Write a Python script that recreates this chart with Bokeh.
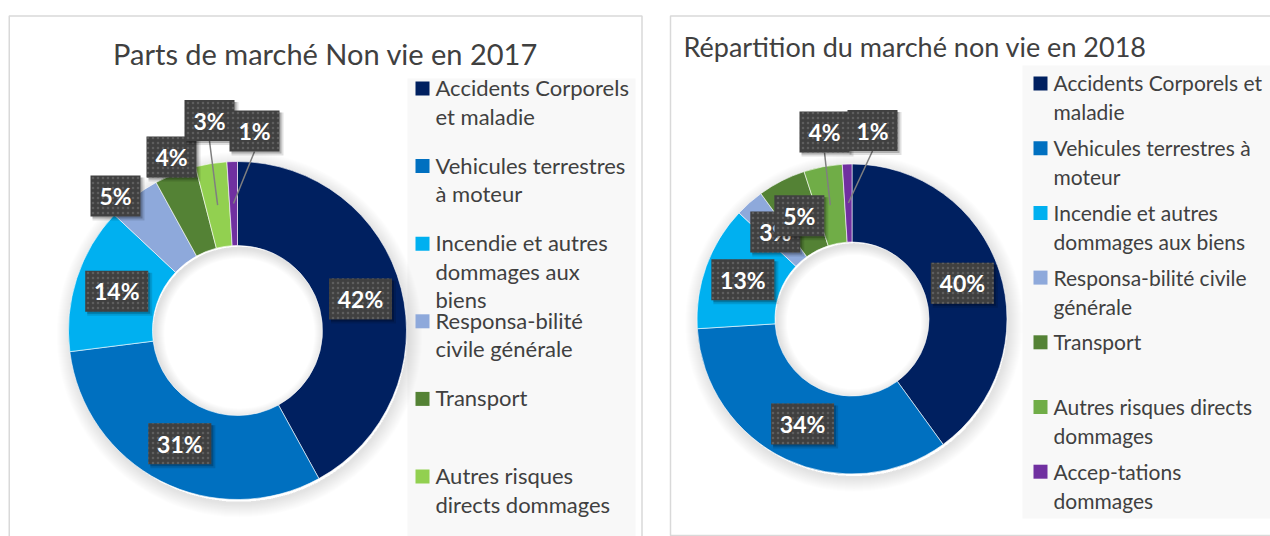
import math
from bokeh.plotting import figure
from bokeh.models import Range1d
from bokeh.core.properties import value
from bokeh.embed import file_html
from bokeh.resources import INLINE

# ---------------- data ----------------
categories = [
    "Accidents Corporels et maladie",
    "Vehicules terrestres à moteur",
    "Incendie et autres dommages aux biens",
    "Responsa-bilité civile générale",
    "Transport",
    "Autres risques directs dommages",
    "Accep-tations dommages",
]
values_2017 = [42, 31, 14, 5, 4, 3, 1]
values_2018 = [40, 34, 13, 3, 5, 4, 1]

legend_lines_2017 = [
    ["Accidents Corporels", "et maladie"],
    ["Vehicules terrestres", "à moteur"],
    ["Incendie et autres", "dommages aux", "biens"],
    ["Responsa-bilité", "civile générale"],
    ["Transport"],
    ["Autres risques", "directs dommages"],
    ["Accep-tations", "dommages"],
]
legend_lines_2018 = [
    ["Accidents Corporels et", "maladie"],
    ["Vehicules terrestres à", "moteur"],
    ["Incendie et autres", "dommages aux biens"],
    ["Responsa-bilité civile", "générale"],
    ["Transport"],
    ["Autres risques directs", "dommages"],
    ["Accep-tations", "dommages"],
]
title_2017 = "Parts de marché Non vie en 2017"
title_2018 = "Répartition du marché non vie en 2018"

colors_2017 = ["#002060", "#0070C0", "#00B0F0", "#8EA9DB", "#548235", "#92D050", "#7030A0"]
colors_2018 = ["#002060", "#0070C0", "#00B0F0", "#8EA9DB", "#548235", "#70AD47", "#7030A0"]

# ---------------- layout ----------------
W, H = 1270, 536
FONT = "Lato"
TEXT_COL = "#404040"


def Y(sy):
    # screen y (page pixels) -> data y
    return H - sy


def text_at_baseline(x, base, txt, size, align="left", **kw):
    # place text by its alphabetic baseline using a 'middle' anchor
    p.text(x=[x], y=[Y(base - 0.36 * size)], text=[txt], text_font=value(FONT),
           text_font_size="%gpx" % size, text_color=TEXT_COL, text_align=align,
           text_baseline="middle", **kw)


p = figure(width=W, height=H, x_range=Range1d(0, W), y_range=Range1d(0, H),
           output_backend="svg", toolbar_location=None,
           x_axis_location=None, y_axis_location=None, min_border=0)
p.grid.visible = False
p.outline_line_color = None
p.background_fill_color = "white"
p.border_fill_color = "white"

# panels
p.quad(left=[8.75], right=[641.5], top=[Y(15.5)], bottom=[Y(560)],
       fill_color="white", line_color="#d9d9d9", line_width=1.5)
p.quad(left=[670], right=[1290], top=[Y(15.5)], bottom=[Y(535)],
       fill_color="white", line_color="#d9d9d9", line_width=1.5)

# legend backgrounds
p.quad(left=[407], right=[635], top=[Y(78)], bottom=[Y(560)],
       fill_color="#f8f8f8", line_color=None)
p.quad(left=[1022], right=[1290], top=[Y(65)], bottom=[Y(518)],
       fill_color="#f8f8f8", line_color=None)


def donut(cx, cy, r_out, r_in, vals, cols, manual_pos, leaders):
    total = float(sum(vals))
    # soft outer shadow
    for k in range(1, 15):
        p.annulus(x=[cx + 2], y=[Y(cy + 4)], inner_radius=r_out - 2, outer_radius=r_out + k,
                  fill_color="black", fill_alpha=0.008, line_color=None)
    # inner shadow in the hole
    for k in range(1, 11):
        p.annulus(x=[cx + 2], y=[Y(cy + 3)], inner_radius=r_in - k, outer_radius=r_in + 2,
                  fill_color="black", fill_alpha=0.012, line_color=None)
    starts, ends, mids = [], [], []
    cum = 0.0
    for v in vals:
        a0 = 90 - (cum + v) / total * 360
        a1 = 90 - cum / total * 360
        starts.append(math.radians(a0))
        ends.append(math.radians(a1))
        mids.append(math.radians((a0 + a1) / 2))
        cum += v
    p.annular_wedge(x=[cx] * len(vals), y=[Y(cy)] * len(vals), inner_radius=r_in, outer_radius=r_out,
                    start_angle=starts, end_angle=ends, fill_color=cols,
                    line_color="white", line_width=0.6)
    r_mid = (r_out + r_in) / 2
    for i, v in enumerate(vals):
        label = "%d%%" % round(v / total * 100)
        mx = cx + r_mid * math.cos(mids[i])
        my = cy - r_mid * math.sin(mids[i])
        bx, by = manual_pos.get(i, (mx, my))
        bw = 24 + 13 * len(label)
        bh = 41
        if i in leaders:
            p.line(x=[bx, mx], y=[Y(by + bh / 2), Y(my)], line_color="#7f7f7f", line_width=1.5)
        p.rect(x=[bx + 3], y=[Y(by + 3)], width=bw + 2, height=bh + 2,
               fill_color="black", fill_alpha=0.12, line_color=None)
        p.rect(x=[bx + 2], y=[Y(by + 2)], width=bw, height=bh,
               fill_color="black", fill_alpha=0.22, line_color=None)
        p.rect(x=[bx], y=[Y(by)], width=bw, height=bh, fill_color="#404040", line_color=None,
               hatch_pattern="dot", hatch_color="#5e5e5e", hatch_scale=5, hatch_weight=1.2)
        p.text(x=[bx], y=[Y(by)], text=[label], text_font=value(FONT), text_font_size="23px",
               text_font_style="bold", text_color="white", text_align="center",
               text_baseline="middle")


donut(237, 330, 169, 85, values_2017, colors_2017,
      {3: (115, 195.5), 4: (171, 156.5), 5: (209, 120), 6: (254, 130.5)}, {5, 6})
donut(851.5, 318.5, 155, 77, values_2018, colors_2018,
      {5: (824, 131.5), 6: (872, 130)}, {5, 6})


def legend(lines, cols, sq_x, txt_x, first_base, step, line_h, size, y_limit):
    for i, item in enumerate(lines):
        base = first_base + i * step
        if base > y_limit:
            continue
        p.rect(x=[sq_x], y=[Y(base - 7)], width=14, height=14, fill_color=cols[i], line_color=None)
        for j, t in enumerate(item):
            b = base + j * line_h
            if b > y_limit:
                continue
            text_at_baseline(txt_x, b, t, size)


legend(legend_lines_2017, colors_2017, 422, 435, 95, 77.6, 28.5, 22, 530)
legend(legend_lines_2018, colors_2018, 1040, 1053, 90, 64.7, 29, 21, 530)

# titles
text_at_baseline(325, 63, title_2017, 29, align="center")
text_at_baseline(683, 56, title_2018, 27, align="left")

open("out.html", "w").write(file_html(p, INLINE))
